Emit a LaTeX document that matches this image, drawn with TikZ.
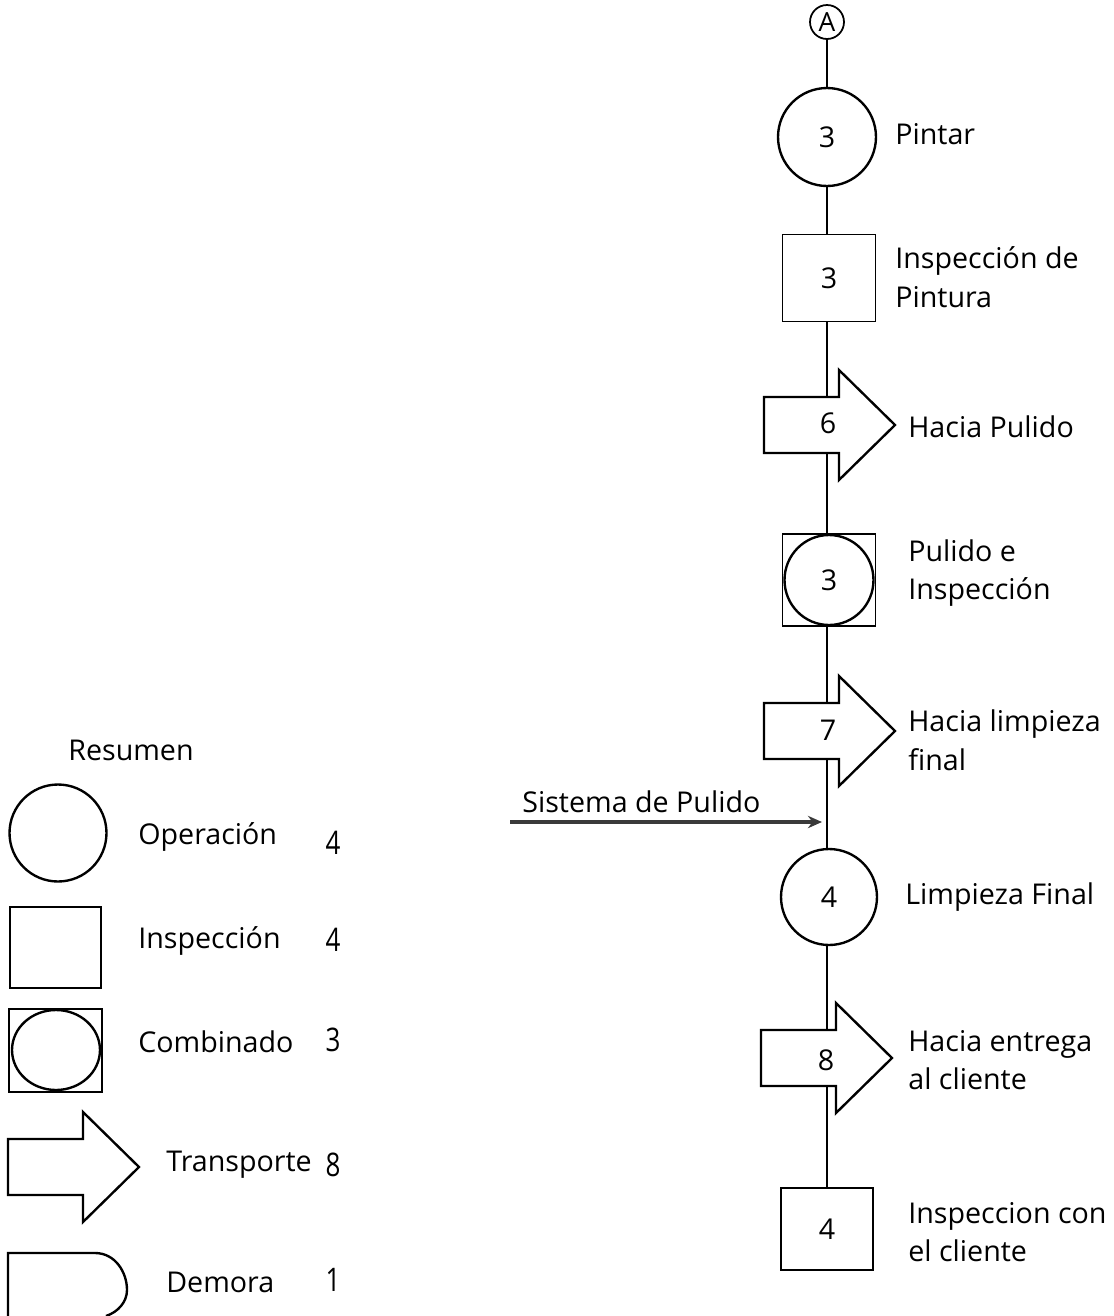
\documentclass[tikz,border=0pt]{standalone}
\usepackage{fontspec}
\setmainfont{Open Sans}
\usetikzlibrary{arrows.meta,shapes.geometric,backgrounds}

\newcommand\lblfont{\fontsize{16.3}{22}\selectfont}
\newcommand\legnumfont{\fontsize{18.5}{20}\selectfont}
\definecolor{flecha}{HTML}{3A3A3A}

\tikzset{
  opcirc/.style={circle,draw,line width=1.35pt,fill=white,minimum size=1.96cm,inner sep=0pt,font=\lblfont},
  insbox/.style={rectangle,draw,line width=1.1pt,fill=white,minimum width=1.86cm,minimum height=1.74cm,inner sep=0pt,font=\lblfont},
  combell/.style={ellipse,draw,line width=1.35pt,minimum width=1.78cm,minimum height=1.8cm,inner sep=0pt,font=\lblfont},
  lbl/.style={anchor=west,align=left,font=\lblfont,inner sep=0pt},
  num/.style={font=\lblfont,inner sep=0pt},
  legnum/.style={font=\legnumfont,inner sep=0pt,xscale=0.8},
  spine/.style={line width=1.4pt},
  pics/transp/.style={code={
    \draw[line width=1.35pt,fill=white,line join=miter] (0,-28) -- (75,-28) -- (75,-55) -- (131,0) -- (75,55) -- (75,28) -- (0,28) -- cycle;
  }}
}

\begin{document}
\begin{tikzpicture}[x=0.02cm,y=-0.02cm]
    \useasboundingbox (0,0) rectangle (1114,1316);
    % diagrama de flujo
    \node [circle,draw,line width=1pt,fill=white,minimum size=0.68cm,inner sep=0pt,font=\fontsize{15}{16}\selectfont] (A) at (827,22) {A};
    \node [opcirc] (op3) at (827,137) {3};
    \node [lbl] (op3t) at (895,134) {Pintar};
    \node [insbox] (in3) at (829,278) {3};
    \node [lbl] (in3t) at (895,277) {Inspección de\\Pintura};
    \pic at (764,425) {transp};
    \node [num] (tr6) at (828,423) {6};
    \node [lbl] (tr6t) at (908,427) {Hacia Pulido};
    \node [insbox,minimum height=1.84cm] (co3) at (829,580) {};
    \node [combell] (co3e) at (829,580) {3};
    \node [lbl] (co3t) at (908,573) {Pulido e\\Inspección};
    \pic at (764,731) {transp};
    \node [num] (tr7) at (828,730) {7};
    \node [lbl] (tr7t) at (908,740) {Hacia limpieza\\final};
    \node [opcirc,minimum size=1.92cm] (op4) at (829,897) {4};
    \node [lbl] (op4t) at (905,897) {Limpieza Final};
    \pic at (761,1058) {transp};
    \node [num] (tr8) at (826,1060) {8};
    \node [lbl] (tr8t) at (908,1060) {Hacia entrega\\al cliente};
    \node [insbox,minimum width=1.84cm,minimum height=1.64cm] (in4) at (827,1229) {4};
    \node [lbl] (in4t) at (908,1232) {Inspeccion con\\el cliente};
    \begin{pgfonlayer}{background}
        \draw [spine] (A.south) -- (A.south |- in4.north);
    \end{pgfonlayer}
    % entrada
    \coordinate (sp) at (510,822);
    \coordinate (spend) at (822,822);
    \draw [flecha,line width=1.8pt,-{Stealth[length=8pt,width=7pt]}] (sp) -- (spend);
    \node [font=\lblfont,inner sep=0pt,anchor=base west] (spt) at (522,812) {Sistema de Pulido};
    % resumen
    \node [font=\lblfont,inner sep=0pt,anchor=west] (res) at (68,750) {Resumen};
    \node [opcirc,minimum size=1.94cm] (lop) at (58,833) {};
    \node [lbl] (lopt) at (138,837) {Operación};
    \node [legnum] (lopn) at (333,843) {4};
    \node [insbox,minimum width=1.82cm,minimum height=1.62cm] (lin) at (55.5,947.5) {};
    \node [lbl] (lint) at (138,941) {Inspección};
    \node [legnum] (linn) at (333,940) {4};
    \node [insbox,minimum width=1.86cm,minimum height=1.66cm] (lco) at (55.5,1050.5) {};
    \node [combell,minimum width=1.76cm,minimum height=1.6cm] (lcoe) at (56,1050) {};
    \node [lbl] (lcot) at (138,1042) {Combinado};
    \node [legnum] (lcon) at (333,1040) {3};
    \pic at (8,1167) {transp};
    \node [lbl] (ltrt) at (166,1165) {Transporte};
    \node [legnum] (ltrn) at (333,1165) {8};
    \draw [line width=1.35pt] (8,1316) -- (8,1253) -- (95,1253)
        .. controls (115,1253) and (127,1272) .. (127,1290)
        .. controls (127,1302) and (118,1312) .. (106,1316);
    \node [lbl] (ldet) at (166,1282) {Demora};
    \node [legnum] (lden) at (333,1280) {1};
\end{tikzpicture}
\end{document}
